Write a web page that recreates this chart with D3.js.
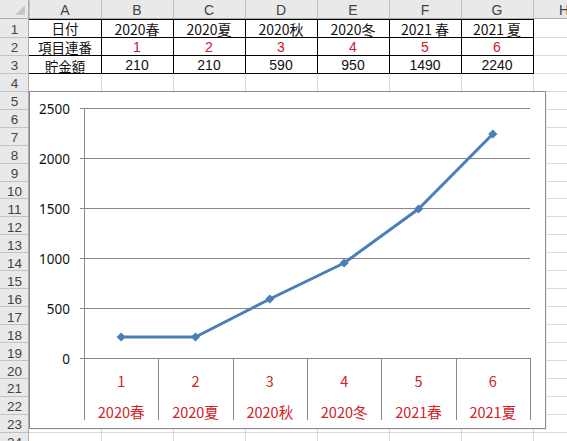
<!DOCTYPE html>
<html>
<head>
<meta charset="utf-8">
<script src="https://cdn.jsdelivr.net/npm/d3@7"></script>
<style>
  html, body { margin: 0; padding: 0; background: #fff; overflow: hidden; }
  svg { display: block; font-family: "Noto Sans CJK JP", "Noto Sans", sans-serif; }
</style>
</head>
<body>
<div id="chart"></div>
<script>
// sheet data
const colLetters = ['A', 'B', 'C', 'D', 'E', 'F', 'G', 'H'];
const rowNumbers = d3.range(1, 25);
const rowTitles = ['日付', '項目連番', '貯金額'];
const cellPeriods = ['2020春', '2020夏', '2020秋', '2020冬', '2021 春', '2021 夏'];

// chart data
const periods = ['2020春', '2020夏', '2020秋', '2020冬', '2021春', '2021夏'];
const serialNos = [1, 2, 3, 4, 5, 6];
const savings = [210, 210, 590, 950, 1490, 2240];
const yTicks = [0, 500, 1000, 1500, 2000, 2500];

const W = 567, H = 441;
const red = '#d42027';
const blue = '#4a7ebb';

const svg = d3.select('#chart').append('svg')
    .attr('width', W)
    .attr('height', H);

// sheet geometry
let col = d3.scaleBand().domain(colLetters).range([29, 29 + 72 * colLetters.length]);
let row = d3.scaleBand().domain(rowNumbers).range([19, 19 + 17.95 * rowNumbers.length]);

const sheet = svg.append('g').attr('id', 'sheet');

// light cell gridlines
sheet.append('g')
    .attr('stroke', '#d9d9d9')
    .call(g => g.selectAll('line.v')
        .data(colLetters)
        .join('line')
        .attr('x1', d => Math.round(col(d) + col.bandwidth()) + 0.5)
        .attr('x2', d => Math.round(col(d) + col.bandwidth()) + 0.5)
        .attr('y1', 19)
        .attr('y2', H))
    .call(g => g.selectAll('line.h')
        .data(rowNumbers)
        .join('line')
        .attr('x1', 29)
        .attr('x2', W)
        .attr('y1', d => Math.round(row(d) + row.bandwidth()) + 0.5)
        .attr('y2', d => Math.round(row(d) + row.bandwidth()) + 0.5));

// headers
sheet.append('rect').attr('x', 0).attr('y', 0).attr('width', W).attr('height', 19).attr('fill', '#e9e9e9');
sheet.append('rect').attr('x', 0).attr('y', 0).attr('width', 29).attr('height', H).attr('fill', '#e9e9e9');
sheet.append('path')
    .attr('d', 'M25,5 L25,15 L15,15 Z')
    .attr('fill', '#c6c6c6');

sheet.append('g')
    .selectAll('line')
    .data(colLetters)
    .join('line')
    .attr('x1', d => Math.round(col(d)) + 0.5)
    .attr('x2', d => Math.round(col(d)) + 0.5)
    .attr('y1', 0)
    .attr('y2', 19)
    .attr('stroke', '#c2c2c2');
sheet.append('g')
    .selectAll('line')
    .data(rowNumbers)
    .join('line')
    .attr('x1', 0)
    .attr('x2', 29)
    .attr('y1', d => Math.round(row(d) + row.bandwidth()) + 0.5)
    .attr('y2', d => Math.round(row(d) + row.bandwidth()) + 0.5)
    .attr('stroke', '#c2c2c2');
sheet.append('line').attr('x1', 0).attr('x2', W).attr('y1', 18.5).attr('y2', 18.5).attr('stroke', '#ababab');
sheet.append('line').attr('x1', 28.5).attr('x2', 28.5).attr('y1', 0).attr('y2', H).attr('stroke', '#ababab');

sheet.append('g')
    .selectAll('text')
    .data(colLetters)
    .join('text')
    .attr('x', (d, i) => i === colLetters.length - 1 ? 564 : col(d) + col.bandwidth() / 2)
    .attr('y', 10)
    .attr('text-anchor', 'middle')
    .attr('dominant-baseline', 'central')
    .attr('font-family', 'Liberation Sans, Arial, sans-serif')
    .attr('font-size', 14)
    .attr('fill', '#444')
    .text(d => d);
sheet.append('g')
    .selectAll('text')
    .data(rowNumbers)
    .join('text')
    .attr('x', 14.5)
    .attr('y', d => row(d) + row.bandwidth() / 2 + 2)
    .attr('text-anchor', 'middle')
    .attr('dominant-baseline', 'central')
    .attr('font-family', 'Liberation Sans, Arial, sans-serif')
    .attr('font-size', 13.5)
    .attr('fill', '#444')
    .text(d => d);

// table A1:G3
const table = sheet.append('g').attr('id', 'table');
const rowsData = [
    [rowTitles[0], ...cellPeriods],
    [rowTitles[1], ...serialNos],
    [rowTitles[2], ...savings]
];
rowsData.forEach((cells, r) => {
    table.append('g')
        .selectAll('text')
        .data(cells)
        .join('text')
        .attr('x', (d, i) => col(colLetters[i]) + col.bandwidth() / 2)
        .attr('y', (d, i) => row(r + 1) + row.bandwidth() / 2 + 1 + (i === 0 ? (r - 1) * 1.2 : 0))
        .attr('text-anchor', 'middle')
        .attr('dominant-baseline', 'central')
        .attr('font-family', d => typeof d === 'number' ? 'Liberation Sans, Arial, sans-serif' : null)
        .attr('font-size', (d, i) => i === 0 ? 13.5 : 14)
        .attr('fill', (d, i) => r === 1 && i > 0 ? '#c8202a' : '#111')
        .text(d => d);
});
const tLeft = col('A'), tRight = col('G') + col.bandwidth();
table.append('g')
    .attr('stroke', '#000')
    .call(g => g.selectAll('line.h')
        .data([0, 1, 2, 3])
        .join('line')
        .attr('x1', tLeft)
        .attr('x2', tRight + 1)
        .attr('y1', d => Math.round(row(1) + d * row.bandwidth()) + 0.5)
        .attr('y2', d => Math.round(row(1) + d * row.bandwidth()) + 0.5))
    .call(g => g.selectAll('line.v')
        .data(colLetters.slice(1))
        .join('line')
        .attr('x1', d => Math.round(col(d)) + 0.5)
        .attr('x2', d => Math.round(col(d)) + 0.5)
        .attr('y1', Math.round(row(1)))
        .attr('y2', Math.round(row(3) + row.bandwidth()) + 1));

// chart object
const chart = svg.append('g').attr('id', 'chartObj');
chart.append('rect')
    .attr('x', 30.5).attr('y', 92.5)
    .attr('width', 516).attr('height', 337)
    .attr('fill', '#e4e4e4');
chart.append('rect')
    .attr('x', 29.5).attr('y', 91.5)
    .attr('width', 516).attr('height', 337)
    .attr('fill', '#fff')
    .attr('stroke', '#8a8a8a');

let x = d3.scaleBand()
    .domain(serialNos)
    .range([84, 530]);
let y = d3.scaleLinear()
    .domain([0, 2500])
    .range([358, 108]);

// gridlines
chart.append('g')
    .attr('stroke', '#878787')
    .selectAll('line')
    .data(yTicks)
    .join('line')
    .attr('x1', 80)
    .attr('x2', 530)
    .attr('y1', d => Math.round(y(d)) + 0.5)
    .attr('y2', d => Math.round(y(d)) + 0.5);

// y axis line
chart.append('line')
    .attr('x1', 84.5).attr('x2', 84.5)
    .attr('y1', y(2500)).attr('y2', y(0))
    .attr('stroke', '#878787');

chart.append('g')
    .selectAll('text')
    .data(yTicks)
    .join('text')
    .attr('x', 70)
    .attr('y', d => y(d) + 1)
    .attr('text-anchor', 'end')
    .attr('dominant-baseline', 'central')
    .attr('font-family', 'Noto Sans, sans-serif')
    .attr('font-size', 13.5)
    .attr('fill', '#111')
    .text(d => d);

// category separators (multi-level axis)
chart.append('g')
    .attr('stroke', '#878787')
    .selectAll('line')
    .data([...serialNos.map(d => x(d)), x.range()[1]])
    .join('line')
    .attr('x1', d => Math.round(d) + 0.5)
    .attr('x2', d => Math.round(d) + 0.5)
    .attr('y1', y(0))
    .attr('y2', 420);

chart.append('g')
    .selectAll('text')
    .data(serialNos)
    .join('text')
    .attr('x', d => x(d) + x.bandwidth() / 2)
    .attr('y', 380)
    .attr('text-anchor', 'middle')
    .attr('dominant-baseline', 'central')
    .attr('font-size', 14.5)
    .attr('fill', red)
    .text(d => d);
chart.append('g')
    .selectAll('text')
    .data(periods)
    .join('text')
    .attr('x', (d, i) => x(serialNos[i]) + x.bandwidth() / 2)
    .attr('y', 411)
    .attr('text-anchor', 'middle')
    .attr('dominant-baseline', 'central')
    .attr('font-size', 14.5)
    .attr('fill', red)
    .text(d => d);

// series
const pts = serialNos.map((d, i) => [x(d) + x.bandwidth() / 2, y(savings[i])]);
chart.append('path')
    .attr('d', d3.line()(pts))
    .attr('fill', 'none')
    .attr('stroke', blue)
    .attr('stroke-width', 3)
    .attr('stroke-linejoin', 'round');
chart.append('g')
    .selectAll('path')
    .data(pts)
    .join('path')
    .attr('d', d3.symbol(d3.symbolSquare, 42))
    .attr('transform', d => `translate(${d[0]},${d[1]}) rotate(45)`)
    .attr('fill', blue);
</script>
</body>
</html>
